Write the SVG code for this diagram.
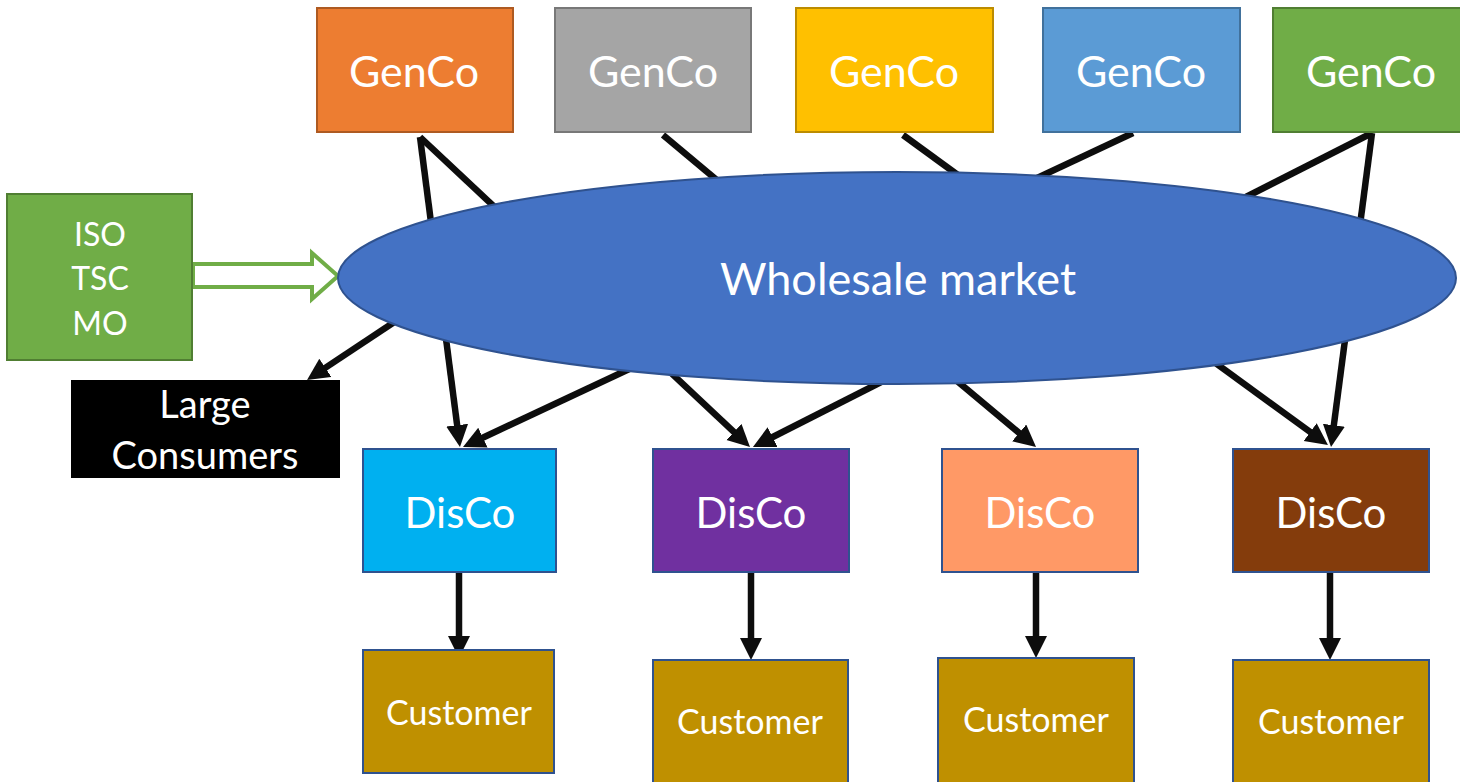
<svg xmlns="http://www.w3.org/2000/svg" width="1460" height="782" viewBox="0 0 1460 782">
<style>
  .box { stroke-width: 2; }
  .t { font-family: Lato, "Liberation Sans", sans-serif; fill: #ffffff; text-anchor: middle; }
  .big { font-size: 43px; }
  .disco { font-size: 42px; }
  .mid { font-size: 32px; }
  .small { font-size: 34px; }
  .conn { stroke: #0d0d0d; stroke-width: 6.5; fill: none; marker-end: url(#ah); }
</style>
<defs>
  <marker id="ah" markerUnits="userSpaceOnUse" markerWidth="24" markerHeight="24" refX="2" refY="11" orient="auto">
    <path d="M0,0 L22,11 L0,22 z" fill="#0d0d0d"/>
  </marker>
</defs>
<rect width="1460" height="782" fill="#ffffff"/>

<g id="connectors">
  <line class="conn" x1="420" y1="137" x2="457.4" y2="427.2"/>
  <line class="conn" x1="420" y1="137" x2="735.4" y2="433.3"/>
  <line class="conn" x1="663" y1="135" x2="1020.7" y2="434.2"/>
  <line class="conn" x1="903" y1="135" x2="1311.8" y2="433.2"/>
  <line class="conn" x1="1133" y1="133" x2="481.1" y2="438.5"/>
  <line class="conn" x1="1372" y1="133" x2="770.8" y2="438.0"/>
  <line class="conn" x1="1372" y1="133" x2="1333.6" y2="427.2"/>
  <line class="conn" x1="420" y1="305" x2="323.7" y2="368.9"/>
  <line class="conn" x1="459" y1="572" x2="459" y2="638"/>
  <line class="conn" x1="751" y1="572" x2="751" y2="640"/>
  <line class="conn" x1="1036" y1="572" x2="1036" y2="638"/>
  <line class="conn" x1="1330" y1="572" x2="1330" y2="640"/>
  <path d="M193,264 L312,264 L312,253 L338,276 L312,299 L312,287 L193,287 Z" fill="#ffffff" stroke="#70AD47" stroke-width="4" stroke-linejoin="miter"/>
</g>

<g id="market">
  <ellipse cx="897" cy="278" rx="559" ry="106" fill="#4472C4" stroke="#2F528F" stroke-width="2"/>
  <text class="t" x="898" y="295" font-size="45">Wholesale market</text>
</g>

<g id="genco1"><rect class="box" x="317" y="8" width="196" height="124" fill="#ED7D31" stroke="#AE5A21"/><text class="t big" x="414" y="87">GenCo</text></g>
<g id="genco2"><rect class="box" x="555" y="8" width="196" height="124" fill="#A5A5A5" stroke="#787878"/><text class="t big" x="653" y="87">GenCo</text></g>
<g id="genco3"><rect class="box" x="796" y="8" width="197" height="124" fill="#FFC000" stroke="#BC8C00"/><text class="t big" x="894" y="87">GenCo</text></g>
<g id="genco4"><rect class="box" x="1043" y="8" width="197" height="124" fill="#5B9BD5" stroke="#41719C"/><text class="t big" x="1141" y="87">GenCo</text></g>
<g id="genco5"><rect class="box" x="1273" y="8" width="196" height="124" fill="#70AD47" stroke="#507E32"/><text class="t big" x="1371" y="87">GenCo</text></g>

<g id="iso"><rect class="box" x="7" y="194" width="185" height="166" fill="#70AD47" stroke="#507E32"/>
  <text class="t mid" x="100" y="246">ISO</text>
  <text class="t mid" x="100" y="290">TSC</text>
  <text class="t mid" x="100" y="335">MO</text>
</g>

<g id="large"><rect x="71" y="380" width="269" height="98" fill="#000000"/>
  <text class="t" x="205" y="418" font-size="38">Large</text>
  <text class="t" x="205" y="469" font-size="38">Consumers</text>
</g>

<g id="disco1"><rect class="box" x="363" y="449" width="193" height="123" fill="#00B0F0" stroke="#2F528F"/><text class="t disco" x="460" y="528">DisCo</text></g>
<g id="disco2"><rect class="box" x="653" y="449" width="196" height="123" fill="#7030A0" stroke="#2F528F"/><text class="t disco" x="751" y="528">DisCo</text></g>
<g id="disco3"><rect class="box" x="942" y="449" width="196" height="123" fill="#FF9966" stroke="#2F528F"/><text class="t disco" x="1040" y="528">DisCo</text></g>
<g id="disco4"><rect class="box" x="1233" y="449" width="196" height="123" fill="#843C0C" stroke="#2F528F"/><text class="t disco" x="1331" y="528">DisCo</text></g>

<g id="cust1"><rect class="box" x="363" y="650" width="191" height="123" fill="#BF9000" stroke="#2F528F"/><text class="t small" x="459" y="725">Customer</text></g>
<g id="cust2"><rect class="box" x="653" y="660" width="195" height="124" fill="#BF9000" stroke="#2F528F"/><text class="t small" x="750" y="734">Customer</text></g>
<g id="cust3"><rect class="box" x="938" y="658" width="196" height="126" fill="#BF9000" stroke="#2F528F"/><text class="t small" x="1036" y="732">Customer</text></g>
<g id="cust4"><rect class="box" x="1233" y="660" width="196" height="124" fill="#BF9000" stroke="#2F528F"/><text class="t small" x="1331" y="734">Customer</text></g>
</svg>
